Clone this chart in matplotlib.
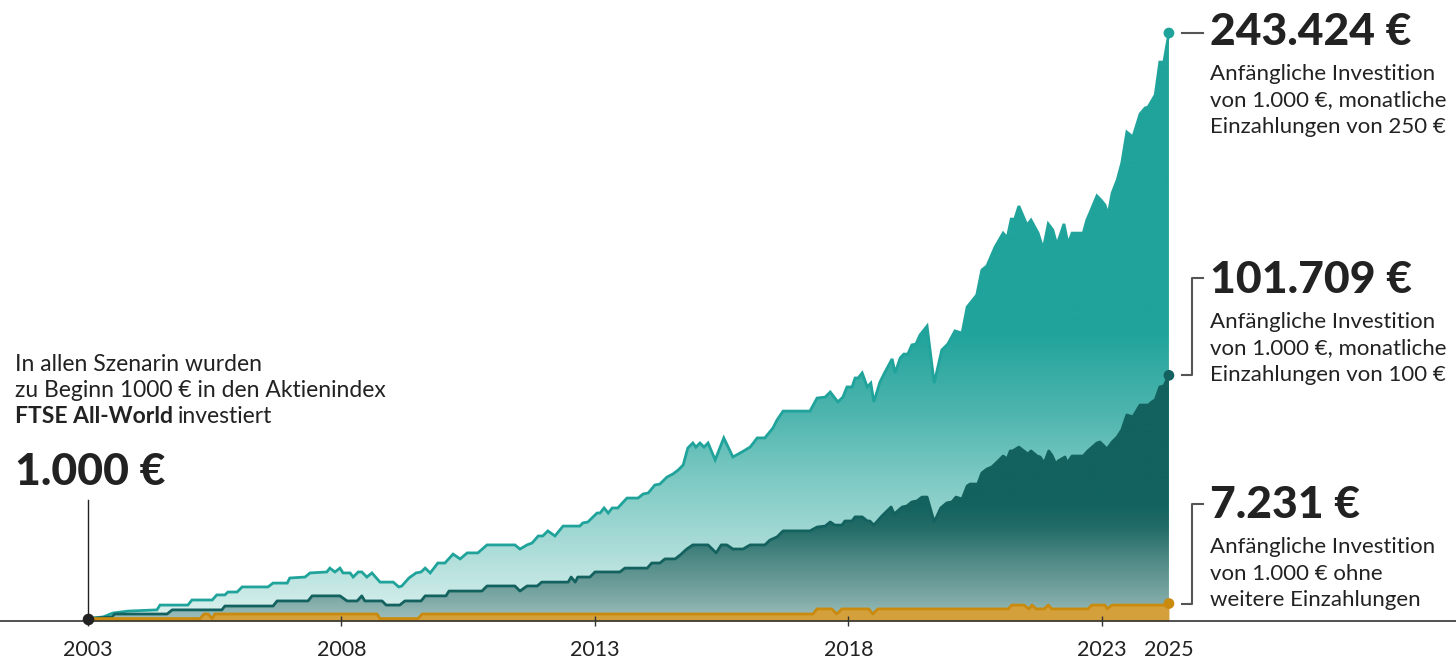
import numpy as np
import matplotlib.pyplot as plt
from matplotlib.colors import to_rgba
from matplotlib.patches import PathPatch
from matplotlib.lines import Line2D

plt.rcParams['font.family'] = ['Lato', 'DejaVu Sans']

# Portfolio value in EUR (decimal years)
years_250 = [2003.00, 2003.30, 2003.49, 2003.79, 2004.36, 2004.42, 2004.97, 2005.05, 2005.45, 2005.54,
             2005.70, 2005.76, 2005.94, 2006.04, 2006.55, 2006.65, 2006.93, 2006.98, 2007.28, 2007.38,
             2007.71, 2007.77, 2007.87, 2007.97, 2008.03, 2008.17, 2008.23, 2008.33, 2008.40, 2008.50,
             2008.60, 2008.76, 2009.02, 2009.13, 2009.19, 2009.33, 2009.47, 2009.57, 2009.65, 2009.75,
             2009.90, 2010.04, 2010.20, 2010.34, 2010.48, 2010.69, 2010.87, 2011.42, 2011.52, 2011.66,
             2011.76, 2011.88, 2011.97, 2012.07, 2012.21, 2012.37, 2012.70, 2012.76, 2012.86, 2013.04,
             2013.10, 2013.18, 2013.26, 2013.34, 2013.45, 2013.63, 2013.85, 2013.95, 2014.05, 2014.18,
             2014.28, 2014.42, 2014.54, 2014.64, 2014.74, 2014.83, 2014.93, 2014.99, 2015.07, 2015.15,
             2015.23, 2015.37, 2015.54, 2015.72, 2015.90, 2016.06, 2016.20, 2016.35, 2016.51, 2016.59,
             2016.71, 2017.24, 2017.38, 2017.54, 2017.64, 2017.79, 2017.89, 2017.97, 2018.07, 2018.13,
             2018.19, 2018.27, 2018.37, 2018.44, 2018.50, 2018.62, 2018.72, 2018.86, 2018.92, 2019.02,
             2019.09, 2019.17, 2019.25, 2019.33, 2019.41, 2019.55, 2019.69, 2019.84, 2019.96, 2020.10,
             2020.24, 2020.34, 2020.53, 2020.63, 2020.73, 2020.89, 2021.05, 2021.13, 2021.21, 2021.28,
             2021.36, 2021.52, 2021.60, 2021.74, 2021.84, 2021.94, 2022.03, 2022.11, 2022.25, 2022.33,
             2022.41, 2022.63, 2022.70, 2022.76, 2022.90, 2022.98, 2023.06, 2023.12, 2023.20, 2023.30,
             2023.39, 2023.49, 2023.61, 2023.75, 2023.85, 2023.91, 2024.05, 2024.14, 2024.22, 2024.32]
value_250 = [1000, 1700, 3300, 4100, 4600, 6600, 6600, 8700, 8700, 10800,
             10800, 12000, 12000, 14100, 14100, 15700, 15700, 17800, 18200, 19900,
             20300, 21900, 20300, 21900, 19900, 19900, 18200, 20300, 20300, 18200,
             19900, 16100, 16100, 14100, 14500, 17800, 19900, 20300, 21900, 19900,
             24000, 24000, 27700, 25700, 28200, 28200, 31500, 31500, 29800, 31500,
             32300, 35200, 35200, 37300, 35200, 39300, 39300, 40600, 41000, 44700,
             44700, 46800, 44700, 46800, 46800, 50900, 50900, 52600, 53000, 56300,
             56700, 59600, 60900, 62500, 64600, 71600, 73700, 72000, 73700, 72000,
             73700, 66700, 75800, 67900, 70000, 72000, 75800, 75800, 79900, 83200,
             86900, 86900, 92300, 92700, 94800, 90700, 92700, 96900, 96900, 100600,
             100600, 102700, 96900, 98500, 90700, 98900, 103100, 108500, 102700, 108900,
             110500, 110500, 114300, 114700, 118400, 122100, 98500, 112200, 114700, 120100,
             119200, 130000, 135000, 145300, 147000, 154800, 160600, 158600, 166400, 166400,
             171800, 163900, 166000, 160600, 154000, 164400, 161900, 155700, 164400, 156100,
             160600, 160600, 166000, 168900, 176000, 174300, 172200, 168100, 177200, 182600,
             189600, 202400, 200400, 209900, 212400, 212800, 217800, 231400, 231400, 243424]

years_100 = [2003.00, 2003.47, 2003.53, 2004.56, 2004.66, 2005.64, 2005.70, 2006.65, 2006.73, 2007.34,
             2007.42, 2007.97, 2008.11, 2008.31, 2008.40, 2008.46, 2008.80, 2008.88, 2009.15, 2009.25,
             2009.57, 2009.65, 2010.06, 2010.12, 2010.77, 2010.87, 2011.42, 2011.52, 2011.66, 2011.86,
             2011.95, 2012.47, 2012.53, 2012.61, 2012.66, 2012.90, 2013.00, 2013.49, 2013.59, 2014.03,
             2014.12, 2014.28, 2014.38, 2014.58, 2014.68, 2014.81, 2014.93, 2015.23, 2015.39, 2015.49,
             2015.60, 2015.72, 2015.92, 2016.06, 2016.35, 2016.45, 2016.59, 2016.71, 2017.24, 2017.38,
             2017.54, 2017.64, 2017.73, 2017.87, 2017.93, 2018.07, 2018.13, 2018.27, 2018.37, 2018.42,
             2018.50, 2018.66, 2018.84, 2018.90, 2019.06, 2019.15, 2019.25, 2019.35, 2019.45, 2019.55,
             2019.69, 2019.82, 2019.94, 2020.04, 2020.12, 2020.24, 2020.34, 2020.40, 2020.55, 2020.63,
             2020.73, 2020.83, 2020.93, 2021.05, 2021.13, 2021.19, 2021.24, 2021.36, 2021.54, 2021.60,
             2021.72, 2021.78, 2021.86, 2021.95, 2022.01, 2022.11, 2022.13, 2022.27, 2022.31, 2022.41,
             2022.63, 2022.72, 2022.90, 2022.96, 2023.10, 2023.20, 2023.30, 2023.39, 2023.49, 2023.61,
             2023.75, 2023.91, 2024.01, 2024.05, 2024.14, 2024.22, 2024.32]
value_100 = [1000, 1700, 2900, 2900, 4600, 4600, 6200, 6200, 8300, 8300,
             10400, 10400, 8300, 8300, 10400, 8300, 8300, 6600, 6600, 8300,
             8300, 10400, 10400, 12400, 12400, 14500, 14500, 12400, 14500, 14500,
             16100, 16100, 18200, 16100, 18200, 18200, 20300, 20300, 21900, 21900,
             24000, 24000, 25700, 25700, 27300, 29800, 31500, 31500, 28200, 31500,
             31500, 29800, 29800, 31500, 31500, 33500, 34800, 37300, 37300, 38900,
             39300, 41000, 39700, 39700, 41400, 41400, 43100, 43100, 41400, 41400,
             39700, 43500, 47200, 44300, 47200, 47600, 49300, 49700, 51300, 51300,
             41000, 46800, 48900, 49300, 51300, 50500, 55900, 56700, 56700, 61300,
             62900, 63800, 65800, 68300, 67100, 70400, 70400, 72000, 69100, 70400,
             68300, 67900, 65400, 70400, 68700, 64200, 66200, 67900, 65400, 68300,
             68300, 70400, 73700, 74100, 71200, 74100, 76200, 79100, 85300, 84500,
             89400, 89400, 91100, 91500, 96900, 97300, 101709]

years_0 = [2003.00, 2005.21, 2005.29, 2005.37, 2005.45, 2005.50, 2008.70, 2008.76, 2009.51, 2009.59,
           2017.30, 2017.38, 2017.67, 2017.77, 2017.87, 2018.40, 2018.48, 2018.58, 2021.15, 2021.22,
           2021.46, 2021.56, 2021.62, 2021.70, 2021.86, 2021.94, 2022.01, 2022.72, 2022.80, 2023.06,
           2023.10, 2023.20, 2024.26, 2024.32]
value_0 = [1000, 1000, 2900, 2900, 1000, 2900, 2900, 1000, 1000, 2900,
           2900, 5000, 5000, 2900, 5000, 5000, 2900, 5000, 5000, 6600,
           6600, 5000, 6600, 5000, 5000, 6600, 5000, 5000, 6600, 6600,
           5000, 6600, 6600, 7231]

tick_years = [2003, 2008, 2013, 2018, 2023]
tick_labels = ['2003', '2008', '2013', '2018', '2023']
end_label = '2025'

final_labels = ['243.424 €', '101.709 €', '7.231 €']
descriptions = [['Anfängliche Investition', 'von 1.000 €, monatliche', 'Einzahlungen von 250 €'],
                ['Anfängliche Investition', 'von 1.000 €, monatliche', 'Einzahlungen von 100 €'],
                ['Anfängliche Investition', 'von 1.000 € ohne', 'weitere Einzahlungen']]
intro_lines = ['In allen Szenarin wurden', 'zu Beginn 1000 € in den Aktienindex']
intro_bold = 'FTSE All-World'
intro_rest = 'investiert'
start_label = '1.000 €'

TEAL = '#1fa39b'
DARK = '#13625f'
GOLD = '#c98a0e'
TEXT = '#222222'

W, H = 1456, 664
YMAX = 257100
fig = plt.figure(figsize=(W / 100, H / 100), dpi=100)
ax = fig.add_axes([0, 43 / H, 1, 621 / H])


def gradient_fill(x, y, stops, z):
    x = np.asarray(x, float)
    poly = ax.fill_between(x, 0, y, facecolor='none', edgecolor='none', zorder=z)
    path = poly.get_paths()[0]
    levels = np.linspace(0, YMAX, 500)
    sv = [s[0] for s in stops]
    cols = np.array([to_rgba(s[1]) for s in stops])
    img = np.stack([np.interp(levels, sv, cols[:, k]) for k in range(4)], axis=-1)[:, None, :]
    im = ax.imshow(img, extent=[x.min(), x.max(), 0, YMAX], origin='lower',
                   aspect='auto', zorder=z, interpolation='bilinear')
    patch = PathPatch(path, transform=ax.transData, facecolor='none', edgecolor='none')
    ax.add_patch(patch)
    im.set_clip_path(patch)


gradient_fill(years_250, value_250,
              [(0, '#e2f3f1'), (9000, '#cdebe8'), (30000, '#abdcd8'), (61000, '#7ac8c2'),
               (86000, '#4eb5ae'), (120000, TEAL), (YMAX, TEAL)], 1.0)
ax.plot(years_250, value_250, color=TEAL, lw=2, zorder=1.1, solid_joinstyle='miter')

gradient_fill(years_100, value_100,
              [(0, '#9fc0bd'), (9000, '#7ea9a6'), (25000, '#4f8a86'), (38000, '#246c68'),
               (48000, DARK), (YMAX, DARK)], 1.2)
ax.plot(years_100, value_100, color=DARK, lw=2, zorder=1.3)

ax.fill_between(years_0, 0, value_0, color='#d3a03c', lw=0, zorder=1.4)
ax.plot(years_0, value_0, color=GOLD, lw=2, zorder=1.5)

# end dots
ax.scatter([years_250[-1], years_100[-1], years_0[-1]],
           [value_250[-1], value_100[-1], value_0[-1]],
           s=60, c=[TEAL, DARK, GOLD], zorder=5, clip_on=False, linewidths=0)
ax.scatter([years_0[0]], [value_0[0]], s=70, c=TEXT, zorder=5, clip_on=False, linewidths=0)

ax.set_xlim(2003 - 88 / 50.7, 2003 + 1368 / 50.7)
ax.set_ylim(0, YMAX)
ax.set_xticks(tick_years + [years_250[-1]], tick_labels + [end_label])
ax.tick_params(axis='x', direction='inout', length=7, width=1, color='#333333',
               labelsize=15.5, labelcolor=TEXT, pad=10)
ax.xaxis.get_major_ticks()[-1].tick1line.set_visible(False)
ax.set_yticks([])
for s in ['top', 'right', 'left']:
    ax.spines[s].set_visible(False)
ax.spines['bottom'].set_color('#333333')
ax.spines['bottom'].set_linewidth(1.2)
ax.spines['bottom'].set_zorder(3)
ax.patch.set_visible(False)


def ftext(x, y, s, **kw):
    kw.setdefault('color', TEXT)
    return fig.text(x / W, 1 - y / H, s, va='baseline', ha='left', **kw)


def fig_xy(xd, yd):
    return fig.transFigure.inverted().transform(ax.transData.transform((xd, yd)))


# left intro text
for i, line in enumerate(intro_lines):
    ftext(15, 371 + 26 * i, line, fontsize=16.5)
b = ftext(15, 423, intro_bold, fontsize=16.5, fontweight='bold')
fig.canvas.draw()
bb = b.get_window_extent(fig.canvas.get_renderer())
ftext(bb.x1 + 5, 423, intro_rest, fontsize=16.5)
ftext(15, 485, start_label, fontsize=32, fontweight='black')

sx, sy = fig_xy(years_0[0], value_0[0])
fig.add_artist(Line2D([sx, sx], [1 - 500 / H, sy], color=TEXT, lw=1, zorder=4))

# right labels
big_base = [45, 293, 518]
desc_base = [80, 328, 553]
label_top = [33, 278, 504]
ends = [(years_250[-1], value_250[-1]), (years_100[-1], value_100[-1]), (years_0[-1], value_0[-1])]
for i in range(3):
    ftext(1210, big_base[i], final_labels[i], fontsize=32, fontweight='black')
    for j, line in enumerate(descriptions[i]):
        ftext(1210, desc_base[i] + 26.5 * j, line, fontsize=16)
    _, dy = fig_xy(*ends[i])
    ty = 1 - label_top[i] / H
    if i == 0:
        xs, ys = [1182 / W, 1203 / W], [dy, dy]
    else:
        xs = [1182 / W, 1192 / W, 1192 / W, 1203 / W]
        ys = [dy, dy, ty, ty]
    fig.add_artist(Line2D(xs, ys, color='#555555', lw=1.5))

fig.savefig('out.png', dpi=100)
